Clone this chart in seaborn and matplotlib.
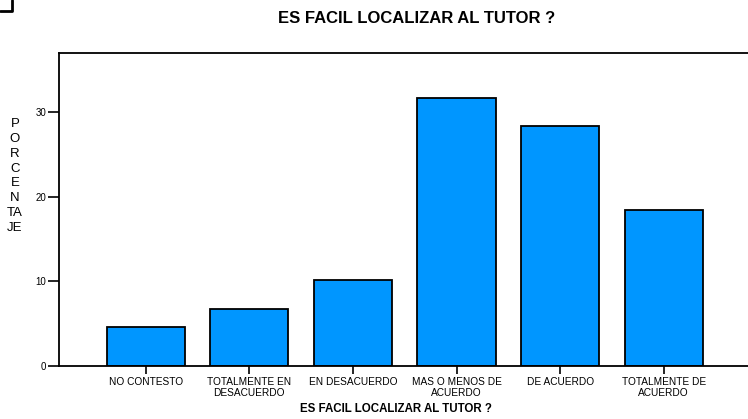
import matplotlib
matplotlib.use("Agg")
import matplotlib.pyplot as plt
import seaborn as sns
from matplotlib.lines import Line2D

# Data
categories = ["NO CONTESTO", "TOTALMENTE EN\nDESACUERDO", "EN DESACUERDO",
              "MAS O MENOS DE\nACUERDO", "DE ACUERDO", "TOTALMENTE DE\nACUERDO"]
porcentaje = [4.6, 6.7, 10.2, 31.7, 28.3, 18.4]
y_ticks = [0, 10, 20, 30]

sns.set_theme(style="ticks")
plt.rcParams['font.family'] = ['Liberation Sans', 'DejaVu Sans']
plt.rcParams['text.color'] = 'black'
plt.rcParams['xtick.color'] = 'black'
plt.rcParams['ytick.color'] = 'black'
plt.rcParams['xtick.labelcolor'] = 'black'
plt.rcParams['ytick.labelcolor'] = 'black'

fig = plt.figure(figsize=(7.48, 4.19), dpi=100)
ax = fig.add_axes([0.0793, 0.1265, 0.9368, 0.7477])

sns.barplot(x=categories, y=porcentaje, color='#0096FF', edgecolor='black',
            linewidth=1.3, width=0.755, saturation=1, ax=ax)

ax.set_xlim(-0.834, 5.93)
ax.set_ylim(0, 37)
ax.set_yticks(y_ticks)
ax.tick_params(axis='y', labelsize=7, length=8, width=1.2, pad=1.5)
ax.tick_params(axis='x', labelsize=7.3, length=6, width=1.2, pad=2)
for lbl in ax.get_xticklabels():
    lbl.set_linespacing(1.15)
for s in ['left', 'top', 'bottom']:
    ax.spines[s].set_linewidth(1.3)
    ax.spines[s].set_color('black')
ax.spines['right'].set_visible(False)
ax.set_xlabel("")
ax.set_ylabel("")

fig.text(0.557, 0.955, "ES FACIL LOCALIZAR AL TUTOR ?", ha='center', va='center',
         fontsize=12, fontweight='bold')
fig.text(0.529, 0.024, "ES FACIL LOCALIZAR AL TUTOR ?", ha='center', va='center',
         fontsize=8.3, fontweight='bold')
fig.text(0.02, 0.58, "P\nO\nR\nC\nE\nN\nTA\nJE", ha='center', va='center',
         fontsize=9.5, linespacing=1.32, multialignment='center')

# little corner mark at top-left
fig.add_artist(Line2D([0, 12 / 748, 12 / 748], [1 - 11 / 419, 1 - 11 / 419, 1],
                      color='black', linewidth=2, transform=fig.transFigure))

fig.savefig("out.png", dpi=100)
